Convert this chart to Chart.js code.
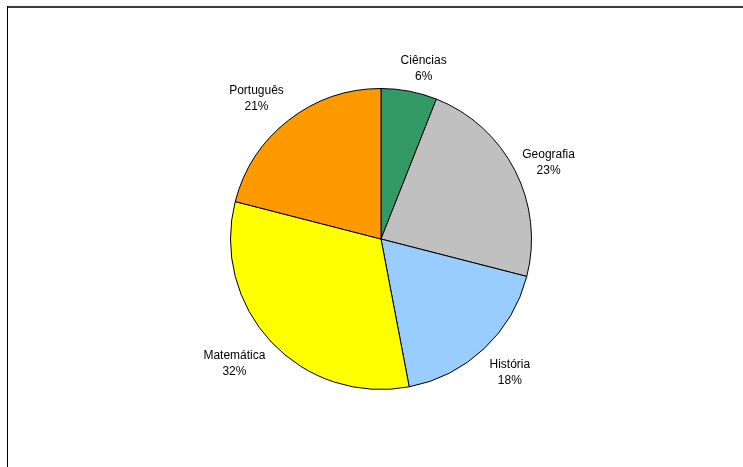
<!DOCTYPE html>
<html>
<head>
<meta charset="utf-8">
<script src="https://cdn.jsdelivr.net/npm/chart.js@4/dist/chart.umd.min.js"></script>
<style>
    html, body { margin: 0; padding: 0; background: #fff; }
    #grafico { display: block; }
</style>
</head>
<body>
<canvas id="grafico" width="743" height="467"></canvas>
<script>
// disciplinas e percentuais
let materias = ['Ciências', 'Geografia', 'História', 'Matemática', 'Português'];
let percentuais = [6, 23, 18, 32, 21];
let cores = ['#339966', '#c0c0c0', '#99ccff', '#ffff00', '#ff9900'];

// moldura: linha superior e esquerda
const moldura = {
    id: 'moldura',
    beforeDraw(chart) {
        let ctx = chart.ctx;
        ctx.save();
        ctx.fillStyle = '#3c3c3c';
        ctx.fillRect(7, 6, 743 - 7, 2);
        ctx.fillStyle = '#000';
        ctx.fillRect(7, 6, 1, 467 - 6);
        ctx.restore();
    }
};

function limitar(v) {
    return Math.max(-1, Math.min(1, v));
}

// rótulos fora das fatias: nome + percentual
const rotulos = {
    id: 'rotulos',
    afterDatasetsDraw(chart) {
        let ctx = chart.ctx;
        let meta = chart.getDatasetMeta(0);
        let total = percentuais.reduce((a, b) => a + b, 0);
        ctx.save();
        ctx.font = '12px "Liberation Sans", Arial, sans-serif';
        ctx.fillStyle = '#000';
        ctx.textAlign = 'center';
        ctx.textBaseline = 'middle';
        meta.data.forEach(function(arc, i) {
            let meio = (arc.startAngle + arc.endAngle) / 2;
            let dx = Math.cos(meio);
            let dy = Math.sin(meio);
            let texto1 = materias[i];
            let texto2 = Math.round(percentuais[i] / total * 100) + '%';
            let larg = Math.max(ctx.measureText(texto1).width, ctx.measureText(texto2).width);
            // ponto fora da borda da fatia, caixa do texto encostada nele
            let x = arc.x + dx * (arc.outerRadius + 8) + limitar(dx * 3) * larg / 2;
            let y = arc.y + 2 + dy * (arc.outerRadius + 9) + limitar(dy * Math.abs(dy) * 1.8) * 16;
            ctx.fillText(texto1, x, y - 8);
            ctx.fillText(texto2, x, y + 8);
        });
        ctx.restore();
    }
};

new Chart(document.getElementById('grafico').getContext('2d'), {
    type: 'pie',
    data: {
        labels: materias,
        datasets: [{
            data: percentuais,
            backgroundColor: cores,
            borderColor: '#000',
            borderWidth: 1,
            hoverOffset: 0,
            offset: 0
        }]
    },
    options: {
        responsive: false,
        animation: false,
        layout: {
            padding: { left: 230, top: 88, right: 211, bottom: 77 }
        },
        plugins: {
            legend: { display: false },
            tooltip: { enabled: false }
        }
    },
    plugins: [moldura, rotulos]
});
</script>
</body>
</html>
